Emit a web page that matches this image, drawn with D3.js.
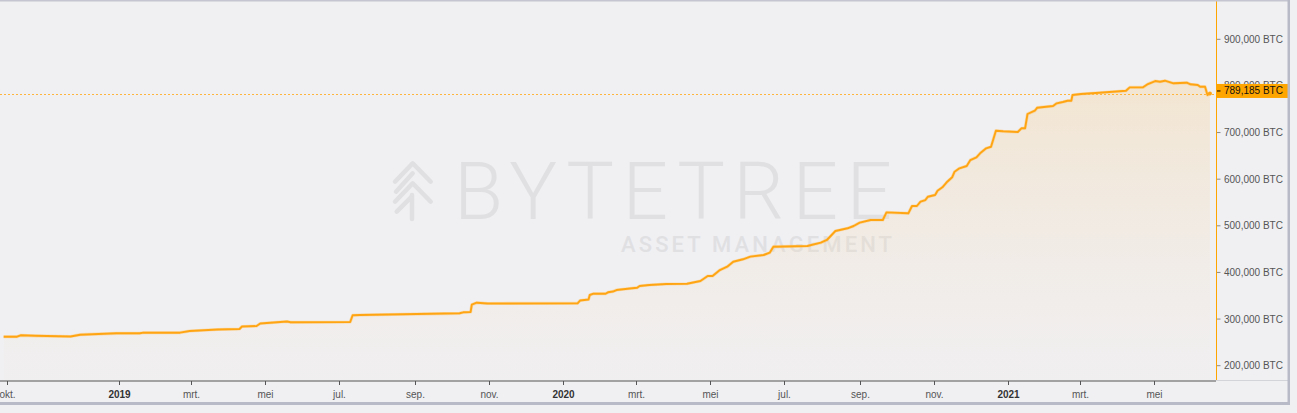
<!DOCTYPE html>
<html>
<head>
<meta charset="utf-8">
<script src="https://cdn.jsdelivr.net/npm/d3@7"></script>
<style>
  html, body { margin: 0; padding: 0; background: #f0f0f3; }
  svg { display: block; }
</style>
</head>
<body>
<svg id="chart" width="1297" height="413"></svg>
<script>
const dates = [
"2018-09-28","2018-10-09","2018-10-12","2018-10-24","2018-11-22","2018-11-30","2018-12-30",
"2019-01-18","2019-01-21","2019-02-20","2019-02-28","2019-03-23","2019-04-10","2019-04-12","2019-04-24","2019-04-27","2019-05-19","2019-05-22","2019-07-10","2019-07-12","2019-07-18","2019-10-08","2019-10-11","2019-10-17","2019-10-18","2019-10-22","2019-10-31",
"2020-01-13","2020-01-15","2020-01-22","2020-01-23","2020-01-26","2020-02-05","2020-02-07","2020-02-11","2020-02-14","2020-02-25","2020-03-02","2020-03-04","2020-03-12","2020-03-26","2020-04-12","2020-04-23","2020-04-29","2020-05-03","2020-05-09","2020-05-15","2020-05-20","2020-05-28","2020-06-03","2020-06-14","2020-06-19","2020-06-22","2020-07-20","2020-07-31","2020-08-05","2020-08-12","2020-08-22","2020-08-27","2020-09-01","2020-09-10","2020-09-20","2020-09-23","2020-10-11","2020-10-14","2020-10-18","2020-10-21","2020-10-25","2020-10-27","2020-11-02","2020-11-04","2020-11-08","2020-11-12","2020-11-16","2020-11-18","2020-11-22","2020-11-28","2020-12-01","2020-12-06","2020-12-09","2020-12-14","2020-12-18","2020-12-22","2020-12-28",
"2021-01-09","2021-01-12","2021-01-15","2021-01-17","2021-01-23","2021-01-25","2021-02-07","2021-02-10","2021-02-15","2021-02-19","2021-02-22","2021-02-23","2021-03-02","2021-03-17","2021-04-08","2021-04-11","2021-04-22","2021-04-26","2021-05-02","2021-05-06","2021-05-10","2021-05-17","2021-05-28","2021-05-31","2021-06-06","2021-06-08","2021-06-12","2021-06-14","2021-06-16"
];
const values = [
262200,262200,265200,264100,262600,266500,269500,
269500,270800,270800,274400,277600,278700,284100,285100,290500,294800,293100,293700,308100,308700,312400,314500,315200,330800,335100,333400,
333800,339800,342000,351600,354400,354400,357400,359100,362300,365600,367300,370900,373100,375200,375800,381600,392400,392400,405200,412300,423000,428200,433800,437400,442300,455200,456700,463800,469600,488900,494700,499600,506700,512500,512500,528900,526800,542500,542500,551700,555300,562400,566100,575300,582600,594600,604000,616000,623300,628300,641100,646900,655500,666200,669600,704000,702700,
701200,709100,709100,739800,746800,753300,756900,762700,765500,768300,768300,780500,782700,785400,789700,797000,797000,804100,810500,809000,811200,805600,806900,803500,802000,798300,798300,780500,783700
];
const yTicks = [200000, 300000, 400000, 500000, 600000, 700000, 800000, 900000];
const xTickDates = ["2018-10-01","2019-01-01","2019-03-01","2019-05-01","2019-07-01","2019-09-01","2019-11-01","2020-01-01","2020-03-01","2020-05-01","2020-07-01","2020-09-01","2020-11-01","2021-01-01","2021-03-01","2021-05-01"];
const xTickLabels = ["okt.","2019","mrt.","mei","jul.","sep.","nov.","2020","mrt.","mei","jul.","sep.","nov.","2021","mrt.","mei"];
const lastLabelValue = 789185;
const unit = "BTC";

const parse = d3.timeParse("%Y-%m-%d");
const data = dates.map((d, i) => ({ date: parse(d), value: values[i] }));

const svg = d3.select("#chart");
const W = 1297, H = 413;
const plotLeft = 0, plotRight = 1216, plotTop = 0, plotBottom = 380.5;

const x = d3.scaleTime()
  .domain([parse("2018-09-25"), parse("2021-06-21")])
  .range([plotLeft, plotRight]);
const y = d3.scaleLinear()
  .domain([200000, 900000])
  .range([365.7, 39.3]);

// background
svg.append("rect").attr("width", W).attr("height", H).attr("fill", "#f0f0f3");

// gradient
const defs = svg.append("defs");
const grad = defs.append("linearGradient").attr("id", "areaGrad")
  .attr("gradientUnits", "userSpaceOnUse")
  .attr("x1", 0).attr("x2", 0).attr("y1", 80).attr("y2", plotBottom);
grad.append("stop").attr("offset", "0%").attr("stop-color", "#f8cf8a").attr("stop-opacity", 0.33);
grad.append("stop").attr("offset", "60%").attr("stop-color", "#f5d9b0").attr("stop-opacity", 0.18);
grad.append("stop").attr("offset", "100%").attr("stop-color", "#f2e6d8").attr("stop-opacity", 0.12);

// watermark
const wm = svg.append("g").attr("class", "watermark");
const wmColor = "#e0e0e3";
wm.append("text")
  .attr("x", 454).attr("y", 219)
  .attr("textLength", 438).attr("lengthAdjust", "spacing")
  .attr("font-family", "Roboto, Lato, 'Open Sans', sans-serif")
  .attr("font-weight", 300)
  .attr("font-size", 80)
  .attr("fill", wmColor)
  .text("BYTETREE");
wm.append("text")
  .attr("x", 621).attr("y", 251.5)
  .attr("textLength", 271).attr("lengthAdjust", "spacing")
  .attr("font-family", "Roboto, Lato, 'Open Sans', sans-serif")
  .attr("font-weight", 500)
  .attr("font-size", 22)
  .attr("fill", wmColor)
  .text("ASSET MANAGEMENT");
const iconPaths = [
  "M395,181.7 L412.7,163.3 L430.7,181.7",
  "M396,191.7 L412.7,173.3",
  "M395,201.7 L412.7,183.3 L430.7,201.7",
  "M396.7,211.7 L411.7,196.7",
  "M412,195 L412,219"
];
wm.selectAll("path.icon").data(iconPaths).join("path")
  .attr("class", "icon")
  .attr("d", d => d)
  .attr("fill", "none")
  .attr("stroke", wmColor)
  .attr("stroke-width", 4.5)
  .attr("stroke-linecap", "round")
  .attr("stroke-linejoin", "round");

// area
const area = d3.area()
  .x(d => x(d.date))
  .y0(plotBottom)
  .y1(d => y(d.value));
svg.append("path").datum(data)
  .attr("d", area)
  .attr("fill", "url(#areaGrad)");

// dotted last-value line
const last = data[data.length - 1];
const dotY = Math.round(y(last.value)) + 0.5;
svg.append("line")
  .attr("x1", plotLeft).attr("x2", plotRight)
  .attr("y1", dotY).attr("y2", dotY)
  .attr("stroke", "#ffb43c")
  .attr("stroke-width", 1)
  .attr("stroke-dasharray", "2,2");

// line
const line = d3.line().x(d => x(d.date)).y(d => y(d.value));
svg.append("path").datum(data)
  .attr("d", line)
  .attr("fill", "none")
  .attr("stroke", "#ffc870")
  .attr("stroke-opacity", 0.5)
  .attr("stroke-width", 3.2)
  .attr("stroke-linejoin", "round");
svg.append("path").datum(data)
  .attr("d", line)
  .attr("fill", "none")
  .attr("stroke", "#ffa514")
  .attr("stroke-width", 1.9)
  .attr("stroke-linejoin", "round");
svg.append("circle")
  .attr("cx", x(last.date)).attr("cy", y(last.value)).attr("r", 2)
  .attr("fill", "#ffa514");

// right axis
const yAxisG = svg.append("g").attr("transform", `translate(${plotRight},0)`);
yAxisG.append("line")
  .attr("x1", 0.5).attr("x2", 0.5).attr("y1", 0).attr("y2", plotBottom)
  .attr("stroke", "#ffa500").attr("stroke-width", 1);
const yt = yAxisG.selectAll("g.tick").data(yTicks).join("g")
  .attr("class", "tick")
  .attr("transform", d => `translate(0,${y(d)})`);
yt.append("line").attr("x1", 1).attr("x2", 4.5).attr("y1", 0).attr("y2", 0)
  .attr("stroke", "#8a8a8a").attr("stroke-width", 1);
yt.append("text")
  .attr("x", 8).attr("dy", "0.35em")
  .attr("font-family", "'Liberation Sans', Arial, sans-serif")
  .attr("font-size", 10)
  .attr("fill", "#555")
  .text(d => d3.format(",")(d) + " " + unit);

// last value label box (covers the 800,000 tick label, as in the reference)
const lbY = y(lastLabelValue);
yAxisG.append("rect")
  .attr("x", 1).attr("y", lbY - 7).attr("width", 72).attr("height", 14)
  .attr("fill", "#ffa500");
yAxisG.append("line").attr("x1", 1).attr("x2", 4.5).attr("y1", lbY).attr("y2", lbY)
  .attr("stroke", "#000").attr("stroke-width", 1);
yAxisG.append("text")
  .attr("x", 8).attr("y", lbY).attr("dy", "0.35em")
  .attr("font-family", "'Liberation Sans', Arial, sans-serif")
  .attr("font-size", 10)
  .attr("fill", "#111")
  .text(d3.format(",")(lastLabelValue) + " " + unit);

// bottom axis
const xAxisG = svg.append("g");
xAxisG.append("line")
  .attr("x1", plotLeft).attr("x2", plotRight).attr("y1", 381).attr("y2", 381)
  .attr("stroke", "#555").attr("stroke-width", 1);
xAxisG.append("line")
  .attr("x1", plotRight).attr("x2", 1289).attr("y1", 380.5).attr("y2", 380.5)
  .attr("stroke", "#d3d3da").attr("stroke-width", 1);
const xt = xAxisG.selectAll("g.tick").data(xTickDates).join("g")
  .attr("class", "tick")
  .attr("transform", d => `translate(${Math.round(x(parse(d))) + 0.5},381)`);
xt.append("line").attr("y1", 0).attr("y2", 4).attr("stroke", "#555");
xt.append("text")
  .attr("y", 17)
  .attr("text-anchor", "middle")
  .attr("font-family", "'Liberation Sans', Arial, sans-serif")
  .attr("font-size", 10)
  .attr("font-weight", (d, i) => /^\d{4}$/.test(xTickLabels[i]) ? "bold" : "normal")
  .attr("fill", (d, i) => /^\d{4}$/.test(xTickLabels[i]) ? "#333" : "#555")
  .text((d, i) => xTickLabels[i]);

// frame borders
svg.append("rect").attr("x", 0).attr("y", 0).attr("width", 1290).attr("height", 1.5).attr("fill", "#c4c5d0");
svg.append("rect").attr("x", 1287.5).attr("y", 0).attr("width", 2.5).attr("height", 405).attr("fill", "#b9bac8");
svg.append("rect").attr("x", 0).attr("y", 402).attr("width", 1290).attr("height", 3).attr("fill", "#b9bac8");
</script>
</body>
</html>
